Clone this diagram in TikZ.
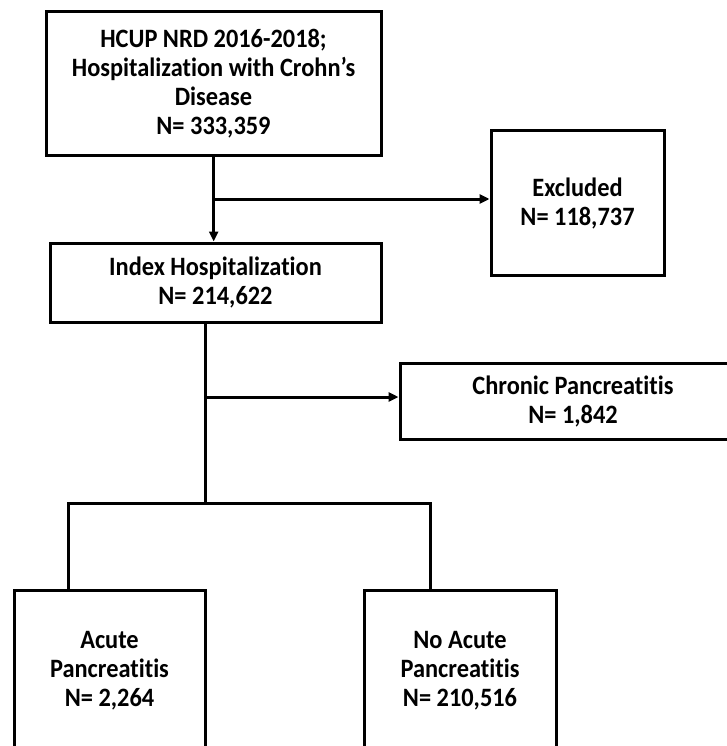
\documentclass[tikz,border=0pt]{standalone}
\usepackage{fontspec}
\setmainfont{Carlito}[Ligatures=NoCommon,FakeStretch=0.92]
\usetikzlibrary{arrows.meta}
\tikzset{
  flowbox/.style={draw,line width=3pt,align=center,inner sep=0pt,
    font=\fontsize{26.5}{29}\selectfont\bfseries},
  flowline/.style={line width=3pt},
  flowarrow/.style={line width=3pt,-{Triangle[length=10pt,width=9pt]}}
}
\begin{document}
\begin{tikzpicture}[x=1pt,y=-1pt]
\useasboundingbox (0,0) rectangle (727,746);
\node[flowbox,minimum width=335pt,minimum height=144pt] (hcup) at (213.5,84)
  {HCUP NRD 2016-2018;\\Hospitalization with Crohn’s\\Disease\\N= 333,359};
\node[flowbox,minimum width=173pt,minimum height=144pt] (excl) at (577.5,203)
  {Excluded\\N= 118,737};
\node[flowbox,minimum width=331pt,minimum height=79pt] (index) at (215.5,282.5)
  {Index Hospitalization\\N= 214,622};
\node[flowbox,minimum width=346pt,minimum height=76pt] (chron) at (573,401)
  {Chronic Pancreatitis\\N= 1,842};
\node[flowbox,minimum width=191pt,minimum height=162pt] (acute) at (109.5,671)
  {Acute\\Pancreatitis\\N= 2,264};
\node[flowbox,minimum width=192pt,minimum height=162pt] (noacute) at (460,671)
  {No Acute\\Pancreatitis\\N= 210,516};
% connectors
\coordinate (b1) at (213.7,199);
\coordinate (b2) at (205,397);
\coordinate (split) at (205,503);
\coordinate (sl) at (68.3,503);
\coordinate (sr) at (430.7,503);
\draw[flowarrow] (hcup.south -| b1) -- (index.north -| b1);
\draw[flowarrow] (b1) -- (b1 -| excl.west);
\draw[flowline] (index.south -| split) -- (split);
\draw[flowarrow] (b2) -- (b2 -| chron.west);
\draw[flowline] (acute.north -| sl) -- (sl) -- (sr) -- (noacute.north -| sr);
\end{tikzpicture}
\end{document}
